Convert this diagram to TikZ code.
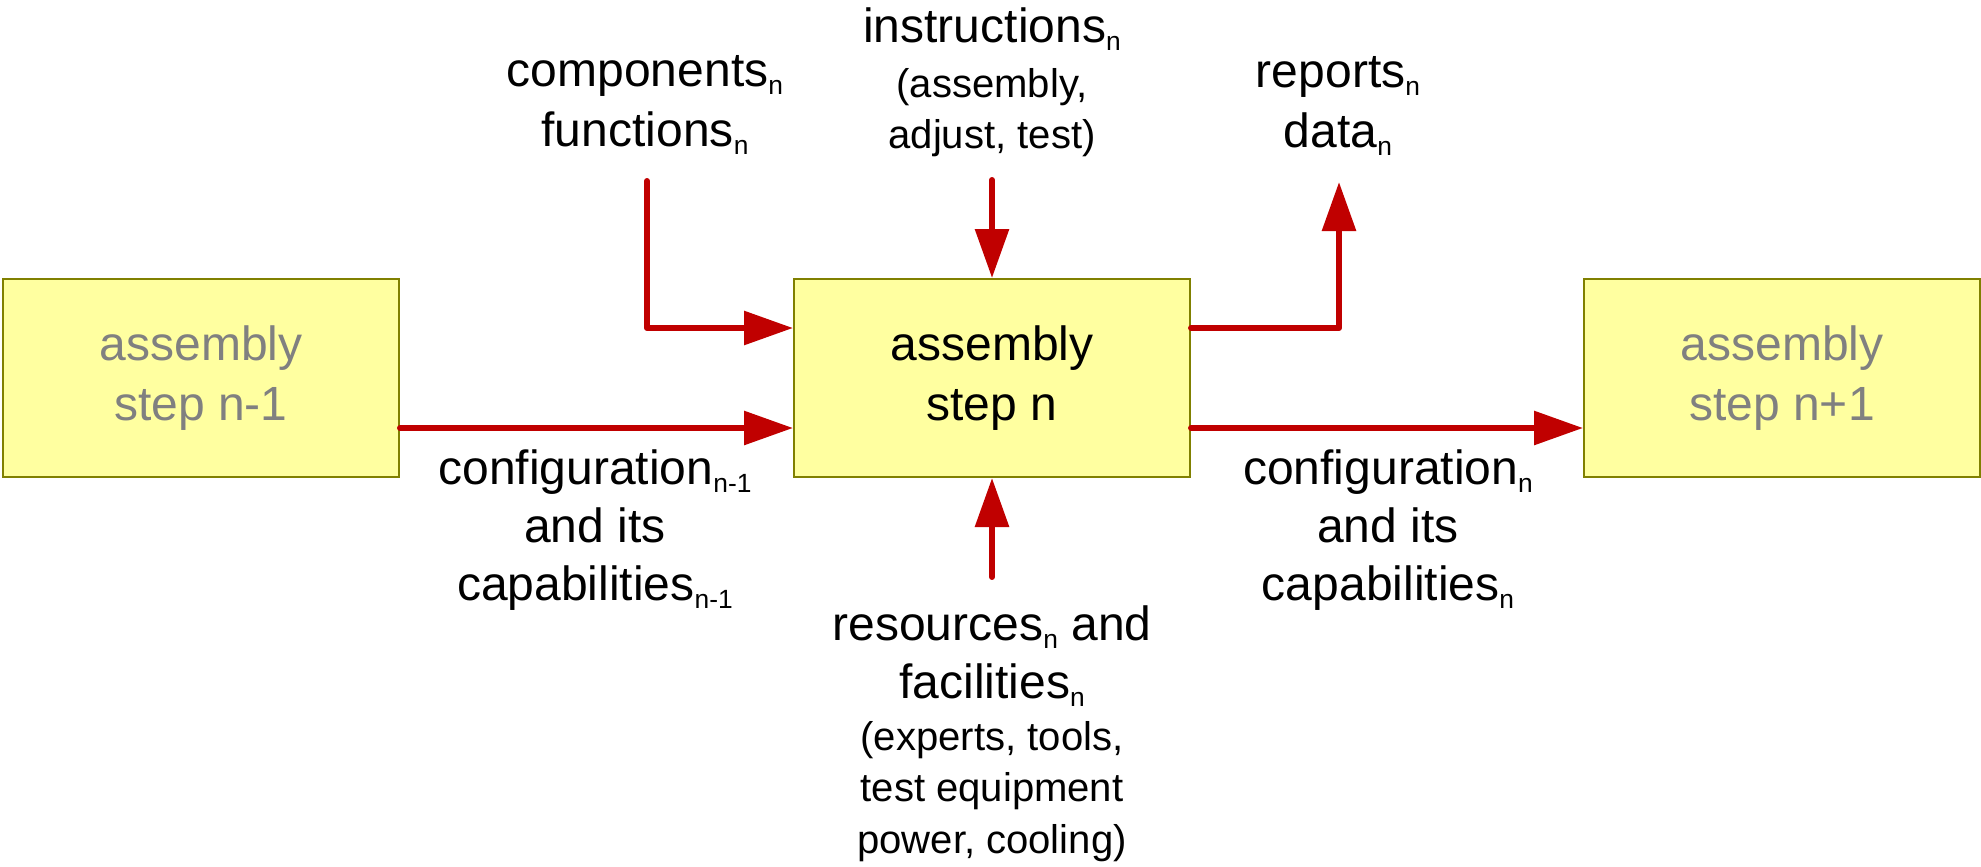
\documentclass[tikz,border=0pt]{standalone}
\usepackage{fontspec}
\setmainfont{Liberation Sans}
\usepackage{tikz}
\usetikzlibrary{calc,positioning,arrows.meta}
\definecolor{boxfill}{HTML}{FFFFA0}
\definecolor{boxline}{HTML}{808000}
\definecolor{flowred}{HTML}{C00000}
\definecolor{faded}{HTML}{808080}
\newcommand{\bw}{3.96cm}
\newcommand{\bh}{1.98cm}
\newcommand{\off}{0.5}
\newcommand{\sub}[1]{\raisebox{-2.3pt}{\fontsize{7.5}{8}\selectfont #1}}
\tikzstyle{stepbox}=[rectangle, draw=boxline, line width=0.57pt, fill=boxfill, minimum width=\bw, minimum height=\bh, inner sep=0pt, align=center, font=\fontsize{13.66}{17.3}\selectfont]
\tikzstyle{lbl}=[inner sep=0pt, align=center, anchor=base, font=\fontsize{13.66}{17}\selectfont]
\tikzstyle{note}=[lbl, font=\fontsize{11.4}{14.4}\selectfont]
\tikzstyle{flow}=[draw=flowred, line width=1.7pt, line cap=round, line join=round, -{Triangle[length=4.9mm,width=3.3mm]}]

\begin{document}
\begin{tikzpicture}
        \useasboundingbox (0,0) rectangle (19.81,-8.66);
        % the three steps
        \node[stepbox, text=faded] (prev) at (2.01,-3.78) {assembly\\step n-1};
        \node[stepbox] (cur) at (9.92,-3.78) {assembly\\step n};
        \node[stepbox, text=faded] (next) at (17.82,-3.78) {assembly\\step n+1};

        % labels (base = last line)
        \node[lbl] (comp) at (6.45,-1.46) {components\sub{n}\\functions\sub{n}};
        \node[lbl] (instr) at (9.92,-0.42) {instructions\sub{n}};
        \node[note] (instrx) at (9.92,-1.48) {(assembly,\\adjust, test)};
        \node[lbl] (rep) at (13.38,-1.47) {reports\sub{n}\\data\sub{n}};
        \node[lbl, font=\fontsize{13.66}{16.4}\selectfont] (cfgin) at (5.95,-6.00) {configuration\sub{n-1}\\and its\\capabilities\sub{n-1}};
        \node[lbl, font=\fontsize{13.66}{16.4}\selectfont] (cfgout) at (13.88,-6.00) {configuration\sub{n}\\and its\\capabilities\sub{n}};
        \node[lbl, font=\fontsize{13.66}{16.5}\selectfont] (res) at (9.92,-6.98) {resources\sub{n} and\\facilities\sub{n}};
        \node[note, font=\fontsize{11.4}{14.6}\selectfont] (resx) at (9.92,-8.53) {(experts, tools,\\test equipment\\power, cooling)};

        % free ends of the side arrows
        \coordinate (compin) at (6.47,-1.81);
        \coordinate (instrin) at (9.92,-1.80);
        \coordinate (repout) at (13.39,-1.82);
        \coordinate (resin) at (9.92,-5.77);

        \draw[flow] (compin) |- ($(cur.west)+(0,\off)$);
        \draw[flow] (instrin) -- (cur.north);
        \draw[flow] ($(cur.east)+(0,\off)$) -| (repout);
        \draw[flow] (resin) -- (cur.south);
        \draw[flow] ($(prev.east)+(0,-\off)$) -- ($(cur.west)+(0,-\off)$);
        \draw[flow] ($(cur.east)+(0,-\off)$) -- ($(next.west)+(0,-\off)$);
\end{tikzpicture}
\end{document}
